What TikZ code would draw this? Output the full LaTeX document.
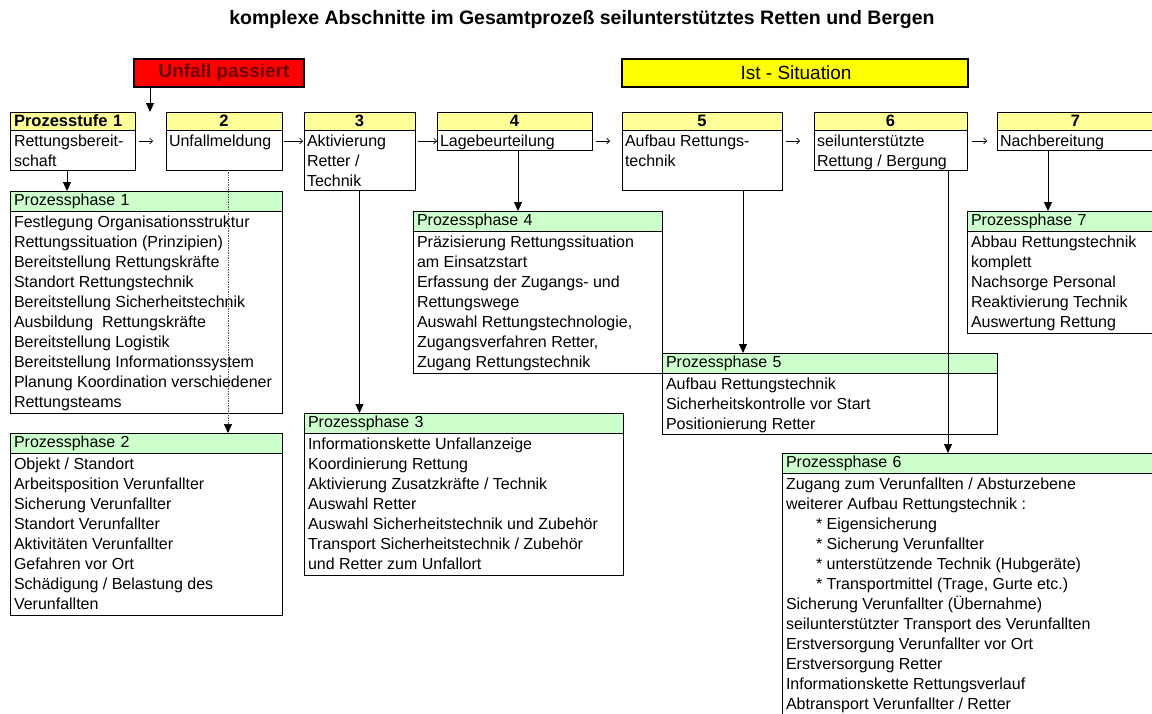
\documentclass[tikz,border=0pt]{standalone}
\usepackage{fontspec}
\setmainfont{Liberation Sans}
\usetikzlibrary{arrows.meta,calc}
\definecolor{hdrY}{HTML}{FFFF99}
\definecolor{hdrG}{HTML}{CCFFCC}
\definecolor{alarmred}{HTML}{FF0000}
\definecolor{alarmtxt}{HTML}{6E0000}
\definecolor{istY}{HTML}{FFFF00}
\definecolor{dotgray}{HTML}{555555}
\begin{document}
\begin{tikzpicture}[x=1pt,y=-1pt,
  every node/.style={inner sep=0pt, outer sep=0pt},
  frame/.style={draw=black, line width=0.9pt, anchor=north west},
  shead/.style={frame, fill=hdrY, inner xsep=4pt, font=\fontsize{16.5}{18}\selectfont\bfseries},
  phead/.style={frame, fill=hdrG, inner xsep=4pt, align=left, font=\fontsize{16}{18}\selectfont},
  body/.style={frame, fill=white},
  txt/.style={anchor=north west, align=left, font=\fontsize{16}{20}\selectfont},
  arr/.style={line width=0.9pt, -{Triangle[length=9pt,width=8pt]}},
  harr/.style={line width=0.7pt, -{Straight Barb[length=3pt,width=6pt]}},
  dotarr/.style={dotgray, line width=0.7pt, densely dotted, -{Triangle[length=9pt,width=8pt,black]}},
  alarm/.style={draw=black, line width=2.5pt, anchor=north west, minimum height=28pt}
]
\useasboundingbox (0,0) rectangle (1152,713);
\clip (0,0) rectangle (1152,713);
\fill[white] (0,0) rectangle (1152,713);

% title
\node[font=\fontsize{19.5}{22}\selectfont\bfseries] (title) at (582,19)
  {komplexe Abschnitte im Gesamtprozeß seilunterstütztes Retten und Bergen};

% top banners
\node[alarm, fill=alarmred, minimum width=170pt] (unf) at (134,59) {};
\node[font=\fontsize{19}{22}\selectfont\bfseries, text=alarmtxt] (unft) at ($(unf.center)+(5,0)$) {Unfall passiert};
\node[alarm, fill=istY, minimum width=346pt] (ist) at (622,59) {};
\node[font=\fontsize{19}{22}\selectfont] (istt) at ($(ist.center)+(1,0)$) {Ist - Situation};

% stage boxes
\node[shead, minimum height=18pt, text width=117pt, align=left] (b1h) at (10,112) {Prozesstufe 1};
\node[body, minimum width=125pt, minimum height=40pt] (b1) at (10,130) {};
\node[txt] (b1t) at ($(b1.north west)+(4,2.5)$) {\strut Rettungsbereit-\\schaft};

\node[shead, minimum height=18pt, text width=108pt, align=center] (b2h) at (166,112) {2};
\node[body, minimum width=116pt, minimum height=40pt] (b2) at (166,130) {};
\node[txt] (b2t) at ($(b2.north west)+(3,2.5)$) {\strut Unfallmeldung};

\node[shead, minimum height=18pt, text width=103pt, align=center] (b3h) at (304,112) {3};
\node[body, minimum width=111pt, minimum height=60pt] (b3) at (304,130) {};
\node[txt] (b3t) at ($(b3.north west)+(3,2.5)$) {\strut Aktivierung\\Retter /\\Technik};

\node[shead, minimum height=18pt, text width=147pt, align=center] (b4h) at (437,112) {4};
\node[body, minimum width=155pt, minimum height=20pt] (b4) at (437,130) {};
\node[txt] (b4t) at ($(b4.north west)+(3,2.5)$) {\strut Lagebeurteilung};

\node[shead, minimum height=18pt, text width=152pt, align=center] (b5h) at (622,112) {5};
\node[body, minimum width=160pt, minimum height=60pt] (b5) at (622,130) {};
\node[txt] (b5t) at ($(b5.north west)+(3,2.5)$) {\strut Aufbau Rettungs-\\technik};

\node[shead, minimum height=18pt, text width=145pt, align=center] (b6h) at (814,112) {6};
\node[body, minimum width=153pt, minimum height=40pt] (b6) at (814,130) {};
\node[txt] (b6t) at ($(b6.north west)+(3,2.5)$) {\strut seilunterstützte\\Rettung / Bergung};

\node[shead, minimum height=18pt, text width=149pt, align=center] (b7h) at (997,112) {7};
\node[body, minimum width=157pt, minimum height=20pt] (b7) at (997,130) {};
\node[txt] (b7t) at ($(b7.north west)+(3,2.5)$) {\strut Nachbereitung};

% phase boxes
\node[phead, minimum height=20pt, text width=264pt] (p1h) at (10,191) {Prozessphase 1};
\node[body, minimum width=272pt, minimum height=202pt] (p1) at (10,211) {};
\node[txt] (p1t) at ($(p1.north west)+(4,2.5)$) {\strut Festlegung Organisationsstruktur\\
Rettungssituation (Prinzipien)\\
Bereitstellung Rettungskräfte\\
Standort Rettungstechnik\\
Bereitstellung Sicherheitstechnik\\
Ausbildung~ Rettungskräfte\\
Bereitstellung Logistik\\
Bereitstellung Informationssystem\\
Planung Koordination verschiedener\\
Rettungsteams};

\node[phead, minimum height=20pt, text width=264pt] (p2h) at (10,433) {Prozessphase 2};
\node[body, minimum width=272pt, minimum height=162pt] (p2) at (10,453) {};
\node[txt] (p2t) at ($(p2.north west)+(4,2.5)$) {\strut Objekt / Standort\\
Arbeitsposition Verunfallter\\
Sicherung Verunfallter\\
Standort Verunfallter\\
Aktivitäten Verunfallter\\
Gefahren vor Ort\\
Schädigung / Belastung des\\
Verunfallten};

\node[phead, minimum height=20pt, text width=311pt] (p3h) at (304,413) {Prozessphase 3};
\node[body, minimum width=319pt, minimum height=142pt] (p3) at (304,433) {};
\node[txt] (p3t) at ($(p3.north west)+(4,2.5)$) {\strut Informationskette Unfallanzeige\\
Koordinierung Rettung\\
Aktivierung Zusatzkräfte / Technik\\
Auswahl Retter\\
Auswahl Sicherheitstechnik und Zubehör\\
Transport Sicherheitstechnik / Zubehör\\
und Retter zum Unfallort};

\node[phead, minimum height=20pt, text width=241pt] (p4h) at (413,211) {Prozessphase 4};
\node[body, minimum width=249pt, minimum height=142pt] (p4) at (413,231) {};
\node[txt] (p4t) at ($(p4.north west)+(4,2.5)$) {\strut Präzisierung Rettungssituation\\
am Einsatzstart\\
Erfassung der Zugangs- und\\
Rettungswege\\
Auswahl Rettungstechnologie,\\
Zugangsverfahren Retter,\\
Zugang Rettungstechnik};

\node[phead, minimum height=20pt, text width=327pt] (p5h) at (662,353) {Prozessphase 5};
\node[body, minimum width=335pt, minimum height=61pt] (p5) at (662,373) {};
\node[txt] (p5t) at ($(p5.north west)+(4,2.5)$) {\strut Aufbau Rettungstechnik\\
Sicherheitskontrolle vor Start\\
Positionierung Retter};

\node[phead, minimum height=20pt, text width=370pt] (p6h) at (782,453) {Prozessphase 6};
\node[body, minimum width=378pt, minimum height=270pt] (p6) at (782,473) {};
\node[txt] (p6t) at ($(p6.north west)+(4,2.5)$) {\strut Zugang zum Verunfallten / Absturzebene\\
weiterer Aufbau Rettungstechnik :\\
\hspace*{30pt}* Eigensicherung\\
\hspace*{30pt}* Sicherung Verunfallter\\
\hspace*{30pt}* unterstützende Technik (Hubgeräte)\\
\hspace*{30pt}* Transportmittel (Trage, Gurte etc.)\\
Sicherung Verunfallter (Übernahme)\\
seilunterstützter Transport des Verunfallten\\
Erstversorgung Verunfallter vor Ort\\
Erstversorgung Retter\\
Informationskette Rettungsverlauf\\
Abtransport Verunfallter / Retter};

\node[phead, minimum height=20pt, text width=185pt] (p7h) at (967,211) {Prozessphase 7};
\node[body, minimum width=193pt, minimum height=102pt] (p7) at (967,231) {};
\node[txt] (p7t) at ($(p7.north west)+(4,2.5)$) {\strut Abbau Rettungstechnik\\
komplett\\
Nachsorge Personal\\
Reaktivierung Technik\\
Auswertung Rettung};

% small arrows between stages
\draw[harr] ([xshift=4pt,yshift=-11pt]b1.north east) -- ([xshift=-13pt,yshift=-11pt]b2.north west);
\draw[harr] ([xshift=2pt,yshift=-11pt]b2.north east) -- ([xshift=-1pt,yshift=-11pt]b3.north west);
\draw[harr] ([xshift=3pt,yshift=-11pt]b3.north east) -- ([xshift=0pt,yshift=-11pt]b4.north west);
\draw[harr] ([xshift=4pt,yshift=-11pt]b4.north east) -- ([xshift=-12pt,yshift=-11pt]b5.north west);
\draw[harr] ([xshift=4pt,yshift=-11pt]b5.north east) -- ([xshift=-14pt,yshift=-11pt]b6.north west);
\draw[harr] ([xshift=5pt,yshift=-11pt]b6.north east) -- ([xshift=-10pt,yshift=-11pt]b7.north west);

% vertical connectors
\draw[arr] ([xshift=16pt]unf.south west) -- ([xshift=16pt]unf.south west |- b1h.north);
\draw[arr] ([xshift=-5.5pt]b1.south) -- ([xshift=-5.5pt]b1.south |- p1h.north);
\draw[dotarr] ([xshift=4pt]b2.south) -- ([xshift=4pt]b2.south |- p2h.north);
\draw[arr] (b3.south) -- (b3.south |- p3h.north);
\draw[arr] ([xshift=3.5pt]b4.south) -- ([xshift=3.5pt]b4.south |- p4h.north);
\draw[arr] ([xshift=41pt]b5.south) -- ([xshift=41pt]b5.south |- p5h.north);
\draw[arr] ([xshift=57.5pt]b6.south) -- ([xshift=57.5pt]b6.south |- p6h.north);
\draw[arr] ([xshift=-27.5pt]b7.south) -- ([xshift=-27.5pt]b7.south |- p7h.north);
\end{tikzpicture}
\end{document}
